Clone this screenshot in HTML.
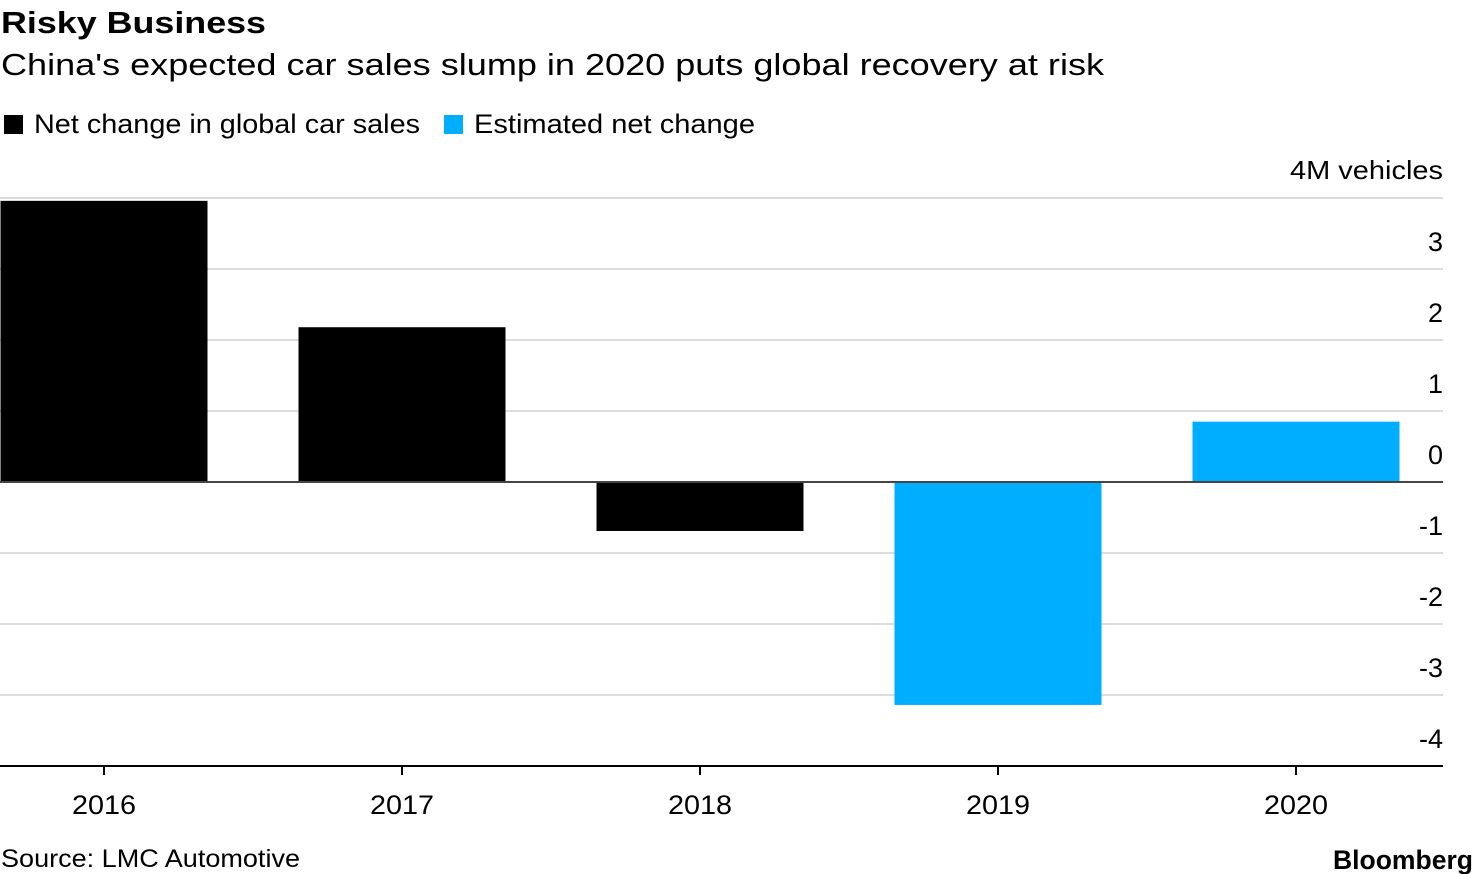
<!DOCTYPE html>
<html><head><meta charset="utf-8"><style>
body{margin:0;background:#fff;width:1473px;height:874px;overflow:hidden;font-family:"Liberation Sans",Arial,sans-serif;}
</style></head><body>
<svg width="1473" height="874" style="position:absolute;left:0;top:0">
<text x="1" y="33" font-size="31" font-weight="bold" fill="#000" textLength="265" lengthAdjust="spacingAndGlyphs">Risky Business</text>
<text x="1" y="75" font-size="31" fill="#000" textLength="1103" lengthAdjust="spacingAndGlyphs">China's expected car sales slump in 2020 puts global recovery at risk</text>
<g>
<rect x="4" y="115" width="19" height="19" fill="#000"/>
<text x="34" y="133" font-size="27" textLength="386" lengthAdjust="spacingAndGlyphs">Net change in global car sales</text>
<rect x="444" y="115" width="19" height="19" fill="#00aeff"/>
<text x="474" y="133" font-size="27" textLength="281" lengthAdjust="spacingAndGlyphs">Estimated net change</text>
</g>
<g id="grid"></g><g id="bars"></g><g id="axes"></g>
<text x="1" y="867" font-size="25" textLength="299" lengthAdjust="spacingAndGlyphs">Source: LMC Automotive</text>
<text x="1333" y="869" font-size="27" font-weight="bold" textLength="140" lengthAdjust="spacingAndGlyphs">Bloomberg</text>
</svg>
<script>
const categories=["2016","2017","2018","2019","2020"];
const values=[3.96,2.18,-0.69,-3.14,0.85];
const estimated=[false,false,false,true,true];
const ticks=[3,2,1,0,-1,-2,-3,-4];
const ns="http://www.w3.org/2000/svg";
const y=v=>482-v*71;
const x=i=>104+i*298;
const bw=207;
function mk(t,a,p){const e=document.createElementNS(ns,t);for(const k in a)e.setAttribute(k,a[k]);p.appendChild(e);return e;}
const grid=document.getElementById('grid'),bars=document.getElementById('bars'),axes=document.getElementById('axes');
const l4=mk('line',{x1:0,x2:1443,y1:y(4),y2:y(4),stroke:'#dcdcdc','stroke-width':2},grid);


const t4=mk('text',{x:1290,y:y(4)-19,'font-size':26,textLength:153,lengthAdjust:'spacingAndGlyphs'},grid);t4.textContent='4M vehicles';


ticks.forEach(v=>{
 if(v!==0&&v!==-4){const l=mk('line',{x1:0,x2:1443,y1:y(v),y2:y(v),stroke:'#dcdcdc','stroke-width':2},grid);
 
 }
 const t=mk('text',{x:1443,y:y(v)-18,'font-size':27,'text-anchor':'end'},grid);t.textContent=v;
 
 
});
values.forEach((v,i)=>{
 const r=mk('rect',{x:Math.max(0,x(i)-bw/2),y:Math.min(y(v),y(0)),width:x(i)-bw/2<0?bw+(x(i)-bw/2):bw,height:Math.abs(y(v)-y(0)),fill:estimated[i]?'#00aeff':'#000'},bars);
 
 
 const tk=mk('line',{x1:x(i),x2:x(i),y1:y(-4),y2:y(-4)+9,stroke:'#000','stroke-width':2},axes);
 
 
 const t=mk('text',{x:x(i),y:814,'font-size':27,'text-anchor':'middle',textLength:64,lengthAdjust:'spacingAndGlyphs'},axes);t.textContent=categories[i];
 
 
});
const z=mk('line',{x1:0,x2:1443,y1:y(0),y2:y(0),stroke:'#444','stroke-width':2},axes);


const xa=mk('line',{x1:0,x2:1443,y1:y(-4),y2:y(-4),stroke:'#000','stroke-width':2},axes);


</script>
</body></html>
